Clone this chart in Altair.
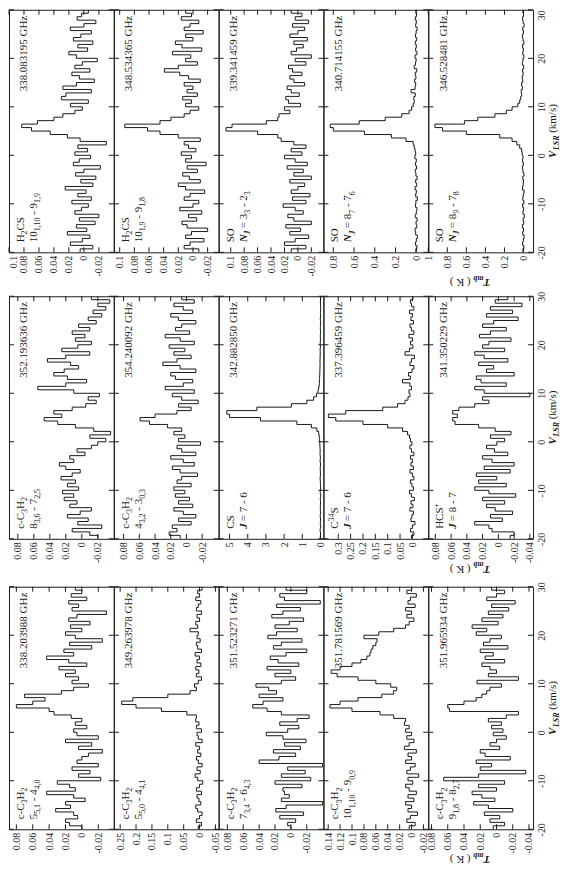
import altair as alt
import pandas as pd

# ---------------- velocity grid (channel edges) ----------------
V_START, V_END = -20.0, 30.0
VTICKS = [-20, -10, 0, 10, 20, 30]

# ---------------- spectra: T_mb (K) per channel, v = -20 ... 30 km/s ----------------
h2cs_338083 = [
    0.005, -0.012, 0.018, 0.002, -0.008, 0.022, -0.004, 0.01, -0.015, 0.006,
    -0.02, 0.012, 0.003, -0.006, 0.016, -0.01, 0.008, -0.003, 0.025, -0.012,
    0.004, -0.016, 0.011, 0.0, -0.022, 0.014, 0.006, -0.009, 0.012, -0.005,
    0.008, -0.03, 0.005, 0.022, 0.045, 0.07, 0.083, 0.062, 0.04, 0.028,
    0.012, 0.002, 0.018, -0.006, 0.03, 0.024, -0.01, 0.028, 0.01, -0.014,
    0.006, 0.016, -0.008, 0.012, 0.002, -0.018, 0.01, 0.02, -0.005, 0.008,
    -0.012, 0.014, 0.004, -0.01, 0.018, 0.0, -0.016, 0.009, 0.003, -0.006]
h2cs_348534 = [
    -0.008, 0.012, 0.004, -0.015, 0.01, 0.002, -0.02, 0.008, 0.015, -0.005,
    0.006, -0.012, 0.018, 0.0, -0.008, 0.012, 0.004, -0.016, 0.01, 0.02,
    -0.01, 0.005, 0.014, -0.006, 0.008, -0.018, 0.01, 0.002, 0.016, -0.004,
    0.006, 0.012, -0.01, 0.02, 0.045, 0.062, 0.093, 0.045, 0.03, 0.012,
    0.004, -0.008, 0.01, 0.002, 0.014, -0.006, 0.008, 0.0, 0.012, -0.01,
    0.006, 0.018, 0.039, 0.02, -0.006, 0.01, 0.003, 0.028, -0.012, 0.015,
    0.024, 0.0, 0.01, -0.014, 0.012, 0.004, -0.008, 0.016, 0.002, 0.01]
so_339341 = [
    0.01, -0.012, 0.02, 0.004, -0.016, 0.012, -0.004, 0.018, -0.02, 0.006,
    0.015, -0.008, 0.004, 0.022, -0.012, 0.008, -0.018, 0.01, 0.0, -0.01,
    0.012, -0.02, 0.006, -0.008, 0.016, -0.014, 0.004, 0.02, -0.006, 0.01,
    -0.012, 0.006, 0.025, 0.03, 0.06, 0.107, 0.098, 0.047, 0.03, 0.028,
    0.012, 0.02, -0.004, 0.014, 0.018, -0.002, 0.01, 0.016, -0.01, 0.006,
    0.012, -0.006, 0.008, 0.014, -0.012, 0.004, -0.02, 0.01, 0.002, -0.008,
    0.006, -0.014, 0.012, 0.0, -0.01, 0.008, -0.016, 0.004, -0.006, 0.01]
so_340714 = [
    0.004, -0.006, 0.008, 0.0, -0.01, 0.006, 0.012, -0.004, 0.002, -0.008,
    0.01, 0.0, -0.006, 0.008, 0.004, -0.01, 0.006, 0.0, 0.012, -0.004,
    0.006, -0.008, 0.004, 0.01, -0.002, 0.008, 0.0, 0.014, 0.006, 0.012,
    0.02, 0.03, 0.1, 0.24, 0.5, 0.8, 0.83, 0.55, 0.3, 0.14,
    0.07, 0.045, 0.03, 0.02, 0.024, 0.01, 0.05, 0.012, 0.006, 0.016,
    0.004, 0.01, -0.004, 0.02, 0.008, 0.002, 0.012, -0.006, 0.006, 0.0,
    0.01, -0.004, 0.008, 0.002, -0.008, 0.006, 0.0, 0.01, -0.002, 0.004]
so_346528 = [
    0.006, -0.004, 0.01, 0.002, -0.006, 0.008, 0.0, 0.012, -0.002, 0.004,
    -0.008, 0.006, 0.0, 0.01, -0.004, 0.008, 0.002, -0.006, 0.01, 0.004,
    0.0, 0.008, -0.004, 0.006, 0.012, 0.002, 0.01, 0.006, 0.014, 0.02,
    0.04, 0.07, 0.12, 0.25, 0.6, 0.85, 0.93, 0.62, 0.48, 0.3,
    0.18, 0.12, 0.06, 0.04, 0.03, 0.02, 0.024, 0.012, 0.02, 0.008,
    0.014, 0.004, 0.01, -0.002, 0.012, 0.006, -0.004, 0.008, 0.002, 0.01,
    -0.004, 0.006, 0.012, 0.0, 0.008, -0.006, 0.004, 0.01, 0.0, 0.006]
cc3h2_352193 = [
    -0.02, -0.01, 0.012, -0.025, 0.005, -0.008, 0.018, 0.002, -0.012, 0.015,
    0.006, 0.022, 0.01, 0.024, 0.004, 0.018, 0.008, 0.026, 0.012, 0.002,
    0.02, 0.028, 0.01, 0.015, -0.004, 0.006, -0.012, -0.02, -0.03, -0.01,
    -0.036, -0.015, 0.008, 0.03, 0.047, 0.025, 0.035, 0.012, -0.005, -0.018,
    -0.008, -0.022, 0.01, 0.055, 0.02, -0.006, 0.018, 0.035, 0.022, 0.004,
    0.014, 0.043, 0.02, -0.01, 0.025, 0.005, -0.012, 0.008, -0.004, 0.012,
    -0.01, 0.004, -0.018, -0.008, -0.025, -0.014, -0.03, -0.02, -0.035, -0.012]
cc3h2_354240 = [
    0.008, 0.022, 0.012, 0.018, -0.006, 0.01, -0.012, 0.004, 0.016, -0.008,
    0.01, -0.004, 0.014, 0.002, 0.016, -0.006, 0.012, 0.006, -0.014, 0.008,
    0.018, -0.01, 0.004, 0.02, -0.012, 0.006, 0.012, -0.018, 0.01, 0.002,
    0.016, 0.006, 0.024, 0.047, 0.059, 0.04, 0.012, -0.006, 0.01, -0.015,
    0.006, 0.018, -0.01, 0.027, 0.004, -0.008, 0.014, 0.02, -0.012, 0.008,
    0.03, 0.012, -0.006, 0.016, 0.002, 0.022, -0.01, 0.008, 0.027, -0.004,
    0.014, 0.006, -0.012, 0.01, 0.02, -0.008, 0.004, 0.016, -0.01, 0.006]
cs_342882 = [
    0.01, 0.0, 0.02, -0.01, 0.01, 0.0, 0.015, -0.005, 0.01, 0.005,
    0.0, 0.01, -0.01, 0.015, 0.005, 0.0, 0.01, 0.02, 0.005, 0.01,
    0.015, 0.0, 0.02, 0.01, 0.025, 0.02, 0.03, 0.04, 0.05, 0.07,
    0.1, 0.2, 0.5, 1.3, 3.3, 5.0, 5.15, 3.5, 1.6, 0.75,
    0.38, 0.22, 0.14, 0.1, 0.07, 0.06, 0.05, 0.04, 0.035, 0.03,
    0.025, 0.03, 0.02, 0.015, 0.02, 0.01, 0.015, 0.005, 0.01, 0.0,
    0.01, 0.005, -0.005, 0.01, 0.0, 0.005, -0.01, 0.0, 0.005, -0.005]
c34s_337396 = [
    0.004, -0.006, 0.008, 0.0, -0.01, 0.006, 0.002, -0.004, 0.01, -0.002,
    0.006, -0.008, 0.004, 0.012, -0.004, 0.002, 0.008, -0.006, 0.0, 0.01,
    -0.004, 0.006, 0.0, 0.008, -0.006, 0.004, 0.01, 0.002, 0.008, 0.012,
    0.02, 0.04, 0.1, 0.2, 0.31, 0.34, 0.27, 0.12, 0.06, 0.03,
    0.018, 0.01, 0.014, 0.004, 0.01, 0.04, 0.008, 0.016, 0.002, -0.006,
    0.01, 0.004, -0.008, 0.03, 0.012, -0.002, 0.008, 0.0, 0.014, -0.006,
    0.004, 0.01, -0.004, 0.006, 0.0, 0.012, -0.006, 0.004, 0.008, -0.002]
hcsp_341350 = [
    -0.015, -0.02, 0.008, 0.012, 0.03, -0.005, 0.01, -0.018, 0.004, 0.015,
    -0.008, 0.02, -0.022, 0.012, 0.03, -0.01, 0.025, 0.002, 0.028, -0.015,
    0.018, -0.02, 0.008, 0.02, -0.012, 0.005, 0.015, 0.002, -0.008, 0.01,
    -0.016, 0.004, 0.025, 0.055, 0.058, 0.052, 0.058, 0.05, 0.03, 0.012,
    0.02, -0.04, 0.018, 0.03, -0.01, 0.022, 0.028, -0.02, 0.015, 0.006,
    0.025, -0.012, 0.018, 0.03, -0.008, 0.02, 0.012, -0.016, 0.024, 0.01,
    -0.01, 0.02, 0.006, -0.025, 0.015, -0.018, 0.01, -0.03, 0.004, -0.012]
cc3h2_338203 = [
    0.0, 0.015, 0.02, 0.005, 0.01, 0.032, 0.014, 0.02, -0.004, 0.01,
    0.043, 0.008, 0.015, 0.03, -0.023, 0.004, -0.01, 0.012, -0.02, 0.006,
    0.0, -0.008, -0.025, 0.004, -0.012, 0.02, -0.02, 0.006, 0.01, -0.006,
    0.008, 0.0, 0.013, 0.034, 0.04, 0.08, 0.06, 0.045, 0.07, 0.025,
    0.01, -0.008, 0.012, 0.004, 0.02, 0.008, 0.028, -0.006, 0.016, 0.043,
    0.01, 0.022, -0.012, 0.015, -0.025, 0.008, 0.02, 0.0, 0.014, -0.01,
    0.016, 0.006, -0.03, 0.012, 0.004, 0.016, -0.006, 0.013, 0.0, 0.008]
cc3h2_349263 = [
    0.004, -0.006, 0.01, 0.0, -0.008, 0.006, 0.012, -0.004, 0.002, 0.008,
    -0.006, 0.01, 0.0, -0.01, 0.006, 0.014, -0.002, 0.008, -0.008, 0.004,
    0.01, -0.004, 0.006, 0.0, 0.012, -0.008, 0.004, 0.008, -0.006, 0.01,
    0.002, 0.012, 0.01, 0.04, 0.12, 0.2, 0.245, 0.21, 0.1, 0.03,
    0.01, 0.016, 0.004, -0.006, 0.01, 0.002, 0.012, -0.004, 0.008, 0.0,
    0.014, -0.006, 0.006, 0.01, -0.002, 0.008, 0.004, 0.03, 0.006, 0.012,
    0.0, 0.008, -0.006, 0.01, 0.004, -0.004, 0.012, 0.0, 0.006, -0.008]
cc3h2_351523 = [
    0.0, 0.004, -0.006, 0.014, -0.016, 0.019, 0.006, -0.04, 0.012, 0.002,
    0.008, 0.01, -0.014, 0.02, -0.025, 0.012, -0.018, 0.004, -0.04, 0.04,
    0.015, -0.006, 0.022, -0.012, 0.008, -0.019, 0.01, 0.031, 0.004, -0.01,
    0.014, -0.008, -0.023, 0.012, 0.03, 0.048, 0.035, 0.01, 0.04, 0.018,
    0.028, 0.044, 0.012, -0.006, 0.02, 0.0, 0.03, -0.01, 0.016, 0.026,
    0.006, -0.02, 0.022, 0.012, -0.014, 0.029, 0.018, -0.008, 0.02, 0.002,
    -0.016, 0.024, 0.01, -0.012, 0.018, -0.037, 0.008, 0.014, -0.02, 0.006]
cc3h2_351781 = [
    0.004, -0.006, 0.008, 0.002, -0.01, 0.006, 0.0, 0.01, -0.004, 0.006,
    -0.008, 0.004, 0.01, -0.002, 0.006, -0.012, 0.008, 0.002, -0.006, 0.01,
    0.0, 0.006, -0.008, 0.012, 0.004, -0.004, 0.008, 0.0, 0.01, 0.004,
    0.012, 0.01, 0.03, 0.053, 0.1, 0.137, 0.12, 0.09, 0.05, 0.03,
    0.025, 0.035, 0.06, 0.09, 0.125, 0.135, 0.12, 0.1, 0.085, 0.075,
    0.07, 0.068, 0.065, 0.06, 0.058, 0.08, 0.055, 0.03, 0.01, 0.004,
    -0.004, 0.008, 0.0, 0.01, -0.006, 0.006, 0.002, -0.008, 0.008, 0.0]
cc3h2_351965 = [
    0.004, -0.01, 0.008, -0.004, 0.015, -0.02, 0.01, 0.028, 0.002, 0.018,
    0.03, 0.0, 0.022, -0.01, 0.065, 0.022, -0.036, 0.02, 0.006, 0.025,
    -0.017, 0.014, 0.02, -0.004, 0.008, 0.0, -0.012, 0.004, -0.008, 0.006,
    -0.006, 0.01, -0.012, -0.027, 0.058, 0.06, 0.04, 0.025, 0.018, 0.012,
    0.008, -0.006, 0.024, -0.027, 0.01, 0.0, 0.008, 0.018, -0.01, 0.014,
    0.004, 0.02, -0.014, 0.016, 0.008, -0.006, 0.025, 0.012, 0.03, -0.002,
    0.018, -0.008, 0.01, -0.015, 0.006, -0.023, 0.012, 0.0, -0.01, 0.006]

# ---------------- tick value lists ----------------
TK_010 = [0.1, 0.08, 0.06, 0.04, 0.02, 0, -0.02]
TK_008 = [0.08, 0.06, 0.04, 0.02, 0, -0.02]
TK_008B = [0.08, 0.06, 0.04, 0.02, 0, -0.02, -0.04]

ROWS = [
    [
        dict(vals=h2cs_338083, freq="338.083195 GHz", mol=["H_{2}CS", "10_{1,10} - 9_{1,9}"], dom=[-0.04, 0.1], ticks=TK_010),
        dict(vals=h2cs_348534, freq="348.534365 GHz", mol=["H_{2}CS", "10_{1,9} - 9_{1,8}"], dom=[-0.035, 0.108], ticks=TK_010),
        dict(vals=so_339341, freq="339.341459 GHz", mol=["SO", "$N_{J}$ = 3_{3} - 2_{3}"], dom=[-0.038, 0.118], ticks=TK_010),
        dict(vals=so_340714, freq="340.714155 GHz", mol=["SO", "$N_{J}$ = 8_{7} - 7_{6}"], dom=[-0.115, 0.895], ticks=[0.8, 0.6, 0.4, 0.2, 0]),
        dict(vals=so_346528, freq="346.528481 GHz", mol=["SO", "$N_{J}$ = 8_{9} - 7_{8}"], dom=[-0.1, 1.0], ticks=[1, 0.8, 0.6, 0.4, 0.2, 0]),
    ],
    [
        dict(vals=cc3h2_352193, freq="352.193636 GHz", mol=["c-C_{3}H_{2}", "8_{3,6} - 7_{2,5}"], dom=[-0.04, 0.091], ticks=TK_008),
        dict(vals=cc3h2_354240, freq="354.240092 GHz", mol=["c-C_{3}H_{2}", "4_{3,2} - 3_{0,3}"], dom=[-0.041, 0.0925], ticks=TK_008),
        dict(vals=cs_342882, freq="342.882850 GHz", mol=["CS", "$J$ = 7 - 6"], dom=[-0.16, 5.6], ticks=[5, 4, 3, 2, 1, 0]),
        dict(vals=c34s_337396, freq="337.396459 GHz", mol=["C^{34}S", "$J$ = 7 - 6"], dom=[-0.064, 0.36], ticks=[0.3, 0.25, 0.2, 0.15, 0.1, 0.05, 0]),
        dict(vals=hcsp_341350, freq="341.350229 GHz", mol=["HCS^{+}", "$J$ = 8 - 7"], dom=[-0.044, 0.089], ticks=TK_008B),
    ],
    [
        dict(vals=cc3h2_338203, freq="338.203988 GHz", mol=["c-C_{3}H_{2}", "5_{5,1} - 4_{4,0}"], dom=[-0.039, 0.089], ticks=TK_008),
        dict(vals=cc3h2_349263, freq="349.263978 GHz", mol=["c-C_{3}H_{2}", "5_{5,0} - 4_{4,1}"], dom=[-0.06, 0.27], ticks=[0.25, 0.2, 0.15, 0.1, 0.05, 0, -0.05]),
        dict(vals=cc3h2_351523, freq="351.523271 GHz", mol=["c-C_{3}H_{2}", "7_{3,4} - 6_{4,3}"], dom=[-0.041, 0.091], ticks=TK_008),
        dict(vals=cc3h2_351781, freq="351.781569 GHz", mol=["c-C_{3}H_{2}", "10_{1,10} - 9_{0,9}"], dom=[-0.028, 0.148], ticks=[0.14, 0.12, 0.1, 0.08, 0.06, 0.04, 0.02, 0, -0.02]),
        dict(vals=cc3h2_351965, freq="351.965934 GHz", mol=["c-C_{3}H_{2}", "9_{1,8} - 8_{2,7}"], dom=[-0.045, 0.084], ticks=TK_008B),
    ],
]

# ---------------- styling ----------------
W, H = 105, 243
FONT = "Liberation Serif"
INK = "#1a1a1a"
ONE = pd.DataFrame({"k": [0]})

UPPER_W = {"I": 0.333, "J": 0.44, "S": 0.556, "C": 0.667, "H": 0.722, "N": 0.722,
           "O": 0.722, "V": 0.722, "K": 0.722, "T": 0.611, "L": 0.611, "R": 0.667, "G": 0.722}
LOWER_W = {"c": 0.444, "m": 0.778, "b": 0.5, "s": 0.389, "k": 0.5, "l": 0.278, "r": 0.333, "i": 0.278, "z": 0.444}


def char_w(c):
    if c.isdigit():
        return 0.5
    if c in " ,.":
        return 0.25
    if c in "-()/":
        return 0.333
    if c in "=+":
        return 0.564
    if c.isupper():
        return UPPER_W.get(c, 0.667)
    return LOWER_W.get(c, 0.45)


def parse(markup):
    segs, buf, kind, bi = [], "", "n", False
    i = 0
    while i < len(markup):
        c = markup[i]
        if c == "$":
            if buf:
                segs.append((buf, kind, bi)); buf = ""
            bi = not bi
        elif markup.startswith("_{", i) or markup.startswith("^{", i):
            if buf:
                segs.append((buf, kind, bi)); buf = ""
            kind = "sub" if c == "_" else "sup"
            i += 1
        elif c == "}":
            if buf:
                segs.append((buf, kind, bi)); buf = ""
            kind = "n"
        else:
            buf += c
        i += 1
    if buf:
        segs.append((buf, kind, bi))
    return segs


def text_mark(t, sx, sy, size, bi, angle, align="left"):
    kw = dict(angle=angle, align=align, baseline="alphabetic", font=FONT,
              fontSize=round(size, 2), color=INK)
    if bi:
        kw.update(fontStyle="italic", fontWeight="bold")
    return alt.Chart(ONE).mark_text(**kw).encode(
        x=alt.value(round(sx, 2)), y=alt.value(round(sy, 2)), text=alt.value(t))


def rich_text(markup, base, x0, y0, angle):
    """Lay out a small markup string along a rotated baseline (angle 270 or 180)."""
    out, along = [], 0.0
    for text, kind, bi in parse(markup):
        size = base * 0.72 if kind != "n" else base
        off = 0.3 * base if kind == "sub" else (-0.4 * base if kind == "sup" else 0.0)
        lead = len(text) - len(text.lstrip(" "))
        along += lead * 0.25 * size
        core = text.strip(" ")
        if core:
            if angle == 270:
                sx, sy = x0 + off, y0 - along
            else:
                sx, sy = x0 - along, y0 - off
            out.append(text_mark(core, sx, sy, size, bi, angle))
            along += sum(char_w(c) for c in core) * size
        trail = len(text) - len(text.rstrip(" "))
        along += trail * 0.25 * size if core else 0
    return out


def num_axis(values, orient, edge_value=None):
    common = dict(values=values, labelExpr="'' + datum.value", labelAngle=270,
                  labelFont=FONT, labelFontSize=10, labelColor=INK, ticks=False,
                  domain=False, grid=False, title=None, labelFlush=False,
                  labelOverlap=False, labelPadding=3)
    if orient == "bottom":
        base = "middle"
        if edge_value is not None:
            base = {"condition": {"test": f"datum.value == {edge_value}", "value": "top"}, "value": "middle"}
        return alt.Axis(orient="bottom", labelAlign="right", labelBaseline=base, **common)
    align = "center"
    if edge_value is not None:
        align = {"condition": {"test": f"datum.value == {edge_value}", "value": "right"}, "value": "center"}
    return alt.Axis(orient="right", labelAlign=align, labelBaseline="top", **common)


def panel(p, first, last, top_row):
    vals = p["vals"]
    assert len(vals) == 70, p["freq"]
    n = len(vals)
    dv = (V_END - V_START) / n
    df = pd.DataFrame({"v": [V_START + i * dv for i in range(n)] + [V_END],
                       "T": list(vals) + [vals[-1]]})
    xs = alt.Scale(domain=p["dom"], reverse=True, nice=False, zero=False)
    ys = alt.Scale(domain=[V_START, V_END], nice=False, zero=False)
    edge_x = p["ticks"][0] if (first and abs(p["ticks"][0] - p["dom"][1]) < 0.003) else None
    xaxis = num_axis(p["ticks"], "bottom", edge_x)
    yaxis = num_axis(VTICKS, "right", V_END if top_row else None) if last else None

    spec = alt.Chart(df).mark_line(interpolate="step-before", color=INK, strokeWidth=1, clip=True).encode(
        x=alt.X("T:Q", scale=xs, axis=xaxis),
        y=alt.Y("v:Q", scale=ys, axis=yaxis),
        order=alt.Order("v:Q"),
    )
    tdf = pd.DataFrame({"T": p["ticks"]})
    vdf = pd.DataFrame({"v": VTICKS})
    rule = dict(color=INK, strokeWidth=1)
    ticks = [
        alt.Chart(tdf).mark_rule(**rule).encode(x=alt.X("T:Q", scale=xs, axis=xaxis), y=alt.value(0), y2=alt.value(5)),
        alt.Chart(tdf).mark_rule(**rule).encode(x=alt.X("T:Q", scale=xs, axis=xaxis), y=alt.value(H - 5), y2=alt.value(H)),
        alt.Chart(vdf).mark_rule(**rule).encode(y=alt.Y("v:Q", scale=ys, axis=yaxis), x=alt.value(0), x2=alt.value(5)),
        alt.Chart(vdf).mark_rule(**rule).encode(y=alt.Y("v:Q", scale=ys, axis=yaxis), x=alt.value(W - 5), x2=alt.value(W)),
    ]
    texts = [text_mark(p["freq"], 18.5, 6, 11, False, 270, align="right")]
    texts += rich_text(p["mol"][0], 11, 15, H - 10, 270)
    texts += rich_text(p["mol"][1], 11, 28, H - 10, 270)
    if last:
        texts += rich_text("$V_{LSR}$ (km/s)", 11, W + 23, H / 2 + 27, 270)
        texts += rich_text("$T_{mb}$ ( K )", 11, 62, H + 27, 180)
    return alt.layer(spec, *ticks, *texts).properties(width=W, height=H)


rows = [alt.hconcat(*[panel(p, j == 0, j == len(r) - 1, k == 0) for j, p in enumerate(r)],
                    spacing=0, bounds="flush")
        for k, r in enumerate(ROWS)]

chart = alt.vconcat(
    rows[0],
    alt.vconcat(rows[1], rows[2], spacing=5),
    spacing=1,
).properties(
    padding={"left": 0, "top": 0, "right": 0, "bottom": 0},
    background="white",
).configure_view(stroke=INK, strokeWidth=1)

chart.save("out.html", embed_options={"renderer": "svg", "actions": False})
